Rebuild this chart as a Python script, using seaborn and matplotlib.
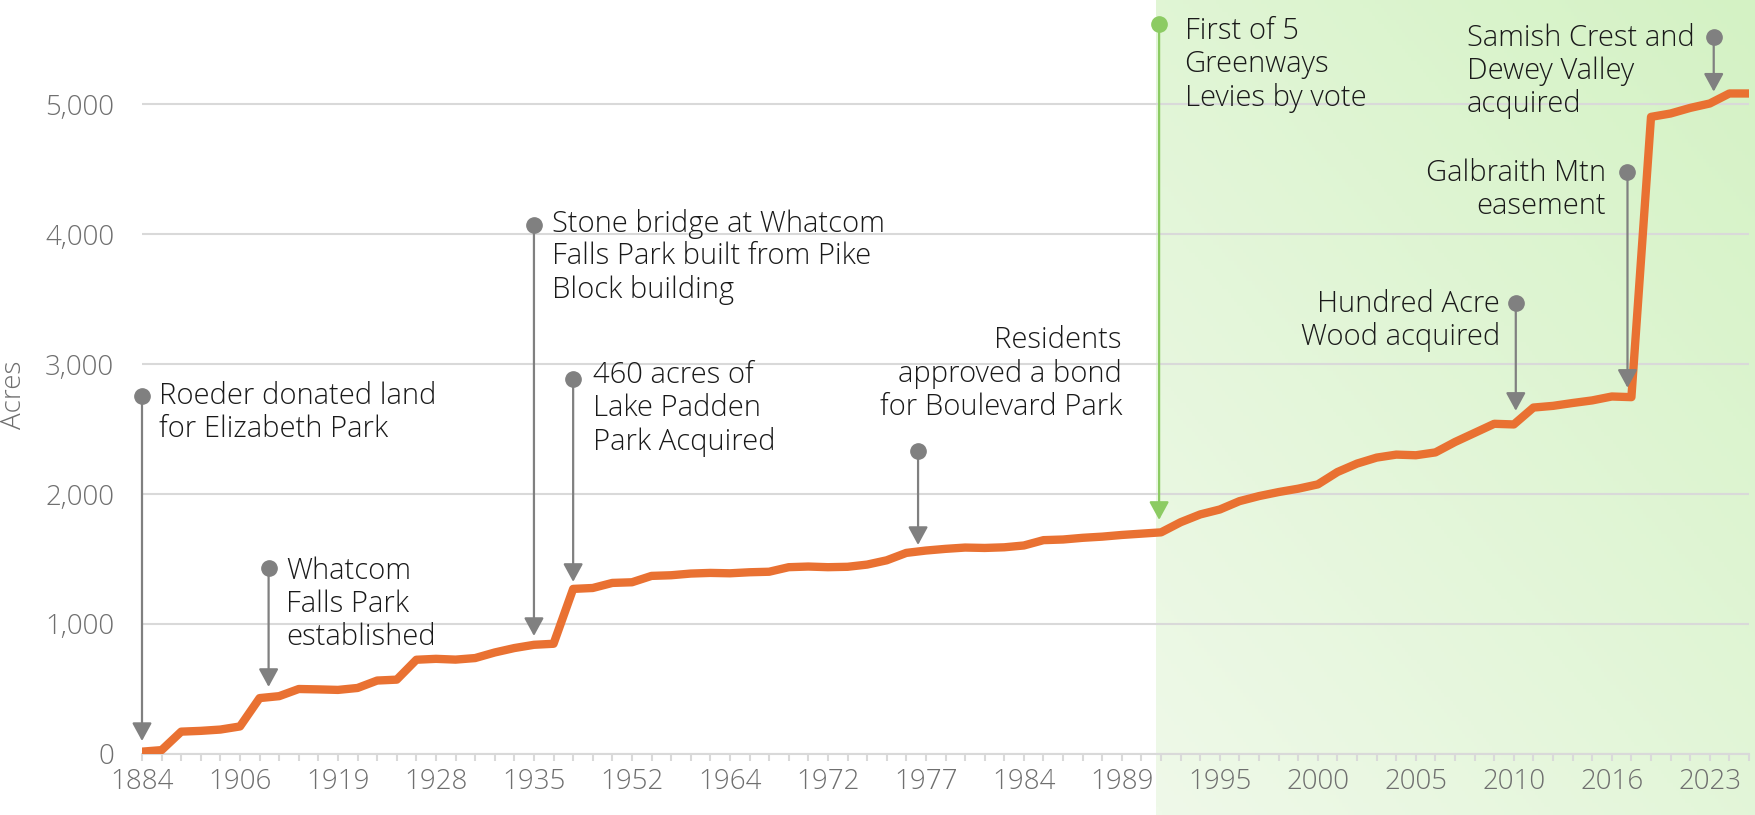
import numpy as np
import pandas as pd
import seaborn as sns
import matplotlib.pyplot as plt
from matplotlib.colors import LinearSegmentedColormap

# one point per record, only every 5th year is labelled on the axis
years = [1884, 1889, 1894, 1898, 1902, 1906, 1908, 1911, 1914, 1917,
         1919, 1921, 1923, 1925, 1927, 1928, 1929, 1931, 1932, 1934,
         1935, 1938, 1942, 1946, 1949, 1952, 1954, 1957, 1959, 1962,
         1964, 1966, 1967, 1969, 1971, 1972, 1973, 1974, 1975, 1976,
         1977, 1978, 1980, 1981, 1983, 1984, 1985, 1986, 1987, 1988,
         1989, 1990, 1991, 1992, 1994, 1995, 1996, 1997, 1998, 1999,
         2000, 2001, 2002, 2003, 2004, 2005, 2006, 2007, 2008, 2009,
         2010, 2011, 2012, 2013, 2015, 2016, 2017, 2019, 2020, 2022,
         2023, 2024, 2025]
acres = [18, 30, 172, 178, 188, 212, 430, 445, 500, 497,
         493, 508, 565, 572, 725, 732, 726, 738, 781, 815,
         840, 848, 1270, 1277, 1316, 1321, 1370, 1375, 1388, 1393,
         1390, 1398, 1402, 1437, 1442, 1437, 1440, 1457, 1490, 1547,
         1565, 1578, 1588, 1585, 1590, 1604, 1645, 1650, 1663, 1672,
         1685, 1695, 1705, 1783, 1843, 1881, 1945, 1984, 2015, 2041,
         2074, 2169, 2234, 2280, 2303, 2298, 2320, 2400, 2470, 2540,
         2535, 2665, 2678, 2700, 2720, 2750, 2745, 4901, 4927, 4970,
         5004, 5081, 5081]
yticks = [0, 1000, 2000, 3000, 4000, 5000]

event_texts = ["Roeder donated land\nfor Elizabeth Park",
               "Whatcom\nFalls Park\nestablished",
               "Stone bridge at Whatcom\nFalls Park built from Pike\nBlock building",
               "460 acres of\nLake Padden\nPark Acquired",
               "Residents\napproved a bond\nfor Boulevard Park",
               "First of 5\nGreenways\nLevies by vote",
               "Hundred Acre\nWood acquired",
               "Galbraith Mtn\neasement",
               "Samish Crest and\nDewey Valley\nacquired"]

df = pd.DataFrame({"idx": np.arange(len(years)), "year": years, "acres": acres})

sns.set_style("white")
plt.rcParams["font.family"] = ["Open Sans", "DejaVu Sans"]

W, H = 1755, 815
fig = plt.figure(figsize=(W / 100, H / 100), dpi=100)
ax = fig.add_axes([142 / W, 61 / H, 1607 / W, 754 / H])
ax.set_facecolor("none")

orange = "#E97132"
grey = "#808080"
green = "#8CCB63"
tick_grey = "#6f6f6f"
greenway_start = 51.75

# pale green gradient behind the greenways era (runs down under the tick labels)
u = np.linspace(0, 1, 200)[None, :]
v = np.linspace(0, 1, 200)[:, None]
grad = 0.45 * u + 0.55 * v
cmap = LinearSegmentedColormap.from_list("gw", ["#eff9e9", "#d4f2c4"])
ax.imshow(grad, extent=(greenway_start, 82.4, -470, 5800), origin="lower",
          cmap=cmap, aspect="auto", zorder=0, clip_on=False)

sns.lineplot(data=df, x="idx", y="acres", ax=ax, color=orange, linewidth=6, zorder=3)

ax.set_xlim(0, len(years) - 1)
ax.set_ylim(0, 5800)
ax.set_axisbelow(True)
ax.grid(axis="y", color="#d9d9d9", lw=1.5)
ax.grid(axis="x", visible=False)
for s in ["top", "right", "left"]:
    ax.spines[s].set_visible(False)
ax.spines["bottom"].set_color("#d9d9d9")
ax.spines["bottom"].set_linewidth(1.5)

ax.set_xticks(df["idx"])
ax.set_xticklabels([str(y) if i % 5 == 0 else "" for i, y in enumerate(years)])
ax.set_yticks(yticks)
ax.set_yticklabels([f"{t:,}" for t in yticks])
ax.tick_params(axis="x", length=5, width=1.5, color="#d9d9d9", pad=5,
               labelsize=20, labelcolor=tick_grey, bottom=True)
ax.tick_params(axis="y", length=0, pad=20, labelsize=20, labelcolor=tick_grey)
for lab in ax.get_xticklabels() + ax.get_yticklabels():
    lab.set_fontweight("light")
ax.set_xlabel("")
ax.set_ylabel("Acres", fontsize=20, color=tick_grey, fontweight="light")
ax.yaxis.set_label_coords(-0.071, 0.476)

# (x, dot, arrow tip, text x, text y, align, colour)
events = [(0.0, 2755, 100, 0.87, 2624, "left", grey),
          (6.46, 1427, 516, 7.37, 1154, "left", grey),
          (20.0, 4071, 908, 20.9, 3825, "left", grey),
          (22.0, 2882, 1324, 23.0, 2655, "left", grey),
          (39.6, 2332, 1608, 50.0, 2924, "right", grey),
          (51.9, 5613, 1801, 53.2, 5302, "left", green),
          (70.1, 3471, 2640, 69.3, 3332, "right", grey),
          (75.8, 4476, 2817, 74.7, 4340, "right", grey),
          (80.2, 5518, 5095, 67.6, 5252, "left", grey)]

for txt, (x, dot, tip, tx, ty, ha, c) in zip(event_texts, events):
    ax.annotate("", xy=(x, tip), xytext=(x, dot),
                arrowprops=dict(arrowstyle="-|>,head_length=0.55,head_width=0.3",
                                color=c, lw=1.6, shrinkA=0, shrinkB=0,
                                mutation_scale=20),
                zorder=5, annotation_clip=False)
    ax.plot([x], [dot], "o", ms=11, color=c, zorder=6, clip_on=False)
    ax.text(tx, ty, txt, ha=ha, va="center", multialignment=ha, fontsize=21,
            color="#1a1a1a", fontweight="light", linespacing=1.15, zorder=7)

fig.savefig("out.png", dpi=100)
